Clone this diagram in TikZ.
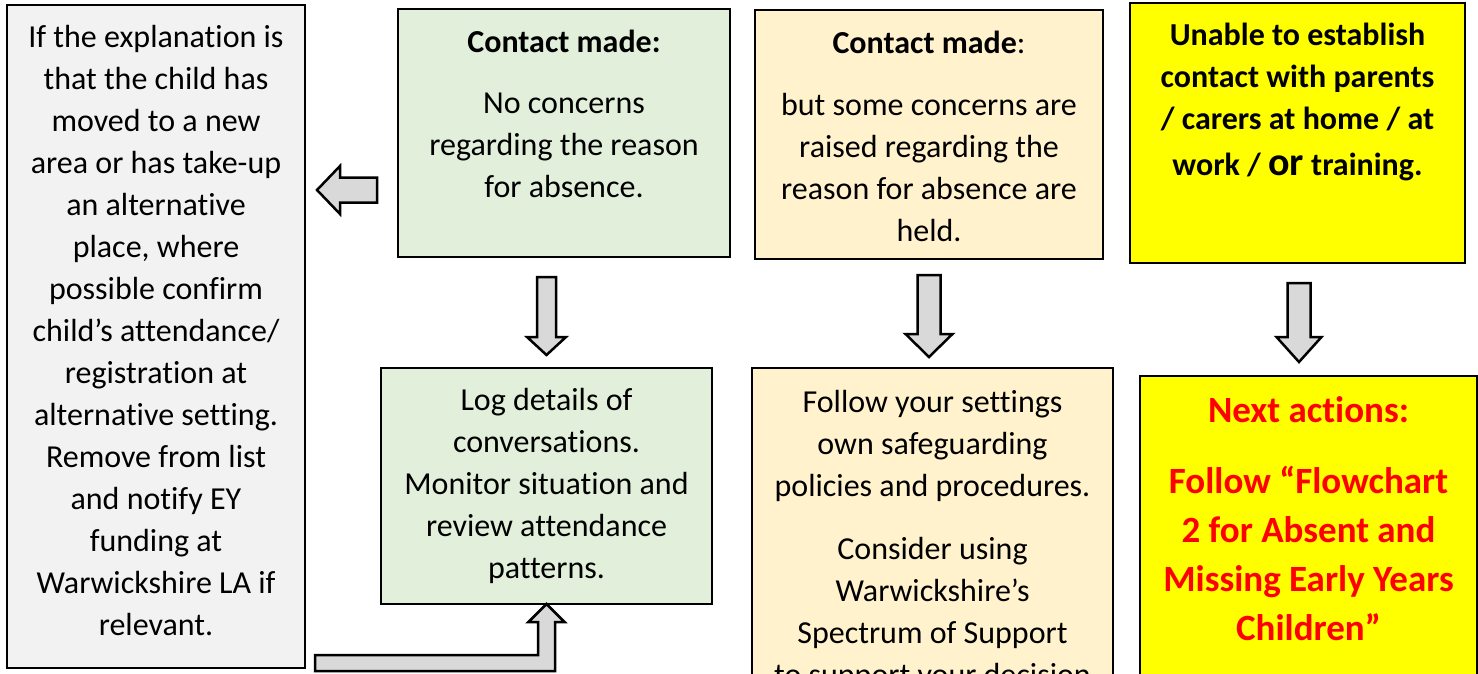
\documentclass[tikz,border=0pt]{standalone}
\usepackage{fontspec}
\setmainfont{Carlito}[Ligatures=NoCommon]
\usetikzlibrary{calc}

\definecolor{greyfill}{HTML}{F2F2F2}
\definecolor{greenfill}{HTML}{E2EFDA}
\definecolor{orangefill}{HTML}{FFF2CC}
\definecolor{yellowfill}{HTML}{FFFF00}
\definecolor{arrowfill}{HTML}{D9D9D9}
\definecolor{redtext}{HTML}{FF0000}

\tikzset{%
  % Specifications for style of boxes and block arrows:
         box/.style = {rectangle, draw=black, line width=2.5pt, inner sep=0pt, outer sep=0pt, anchor=north west},
  blockarrow/.style = {draw=black, line width=2.5pt, fill=arrowfill, line join=miter},
}

% box text: height, width, first baseline, text
\newcommand{\boxtext}[4]{\parbox[t][#1pt][t]{#2pt}{\centering\fontsize{32}{42}\selectfont\rule{0pt}{#3pt}#4\par}}

% block arrow pointing down: tail, tip, shaft half width, head half width, head length
\newcommand{\downblock}[5]{%
  \draw[blockarrow] ($(#1)+(-#3,0)$) -- ($(#2)+(-#3,-#5)$) -- ($(#2)+(-#4,-#5)$) -- (#2)
    -- ($(#2)+(#4,-#5)$) -- ($(#2)+(#3,-#5)$) -- ($(#1)+(#3,0)$) -- cycle;}
% block arrow pointing left
\newcommand{\leftblock}[5]{%
  \draw[blockarrow] ($(#1)+(0,-#3)$) -- ($(#2)+(#5,-#3)$) -- ($(#2)+(#5,-#4)$) -- (#2)
    -- ($(#2)+(#5,#4)$) -- ($(#2)+(#5,#3)$) -- ($(#1)+(0,#3)$) -- cycle;}

\begin{document}
\begin{tikzpicture}[x=1pt, y=-1pt]
    \useasboundingbox (0,0) rectangle (1478,674);
    \fill[white] (0,0) rectangle (1478,674);
    \clip (0,0) rectangle (1478,674);

    % Draw boxes
    \node (grey) [box, fill=greyfill]   at (7,5)     {\boxtext{663}{298}{43}{If the explanation is\\ that the child has\\ moved to a new\\ area or has take-up\\ an alternative\\ place, where\\ possible confirm\\ child’s attendance/\\ registration at\\ alternative setting.\\ Remove from list\\ and notify EY\\ funding at\\ Warwickshire LA if\\ relevant.}};
    \node (gA)   [box, fill=greenfill]  at (398,9)   {\boxtext{248}{332}{44}{\textbf{Contact made:}\\[19pt] No concerns\\ regarding the reason\\ for absence.}};
    \node (oA)   [box, fill=orangefill] at (755,10)  {\boxtext{249}{348}{44}{\textbf{Contact made}:\\[20pt] but some concerns are\\ raised regarding the\\ reason for absence are\\ held.}};
    \node (yA)   [box, fill=yellowfill] at (1130,3)  {\boxtext{260}{335}{43}{\bfseries Unable to establish\\ contact with parents\\ / carers at home / at\\[4pt] work / {\fontsize{40}{42}\selectfont or} training.}};
    \node (gB)   [box, fill=greenfill]  at (381,368) {\boxtext{236}{331}{42}{Log details of\\ conversations.\\ Monitor situation and\\ review attendance\\ patterns.}};
    \node (oB)   [box, fill=orangefill] at (752,368) {\boxtext{400}{361}{44}{Follow your settings\\ own safeguarding\\ policies and procedures.\\[21pt] Consider using\\ Warwickshire’s\\ Spectrum of Support\\ to support your decision}};
    \node (yB)   [box, fill=yellowfill] at (1140,376) {\boxtext{400}{337}{46}{\fontsize{37}{49}\selectfont\bfseries\color{redtext}Next actions:\\[22pt] Follow “Flowchart\\ 2 for Absent and\\ Missing Early Years\\ Children”}};

    % Arrow ends
    \coordinate (gtail) at ($(gA.south -| gB.north)+(0,20)$);
    \coordinate (gtip)  at ($(gB.north)+(0,-13)$);
    \coordinate (otail) at ($(oA.south)+(0,16)$);
    \coordinate (otip)  at ($(oA.south |- oB.north)+(0,-11)$);
    \coordinate (ytail) at ($(yA.south)+(1.5,20)$);
    \coordinate (ytip)  at ($(yA.south |- yB.north)+(1.5,-14)$);
    \coordinate (ltail) at ($(gA.north west)+(-21,181)$);
    \coordinate (ltip)  at ($(ltail -| grey.east)+(12,0)$);
    \coordinate (etail) at ($(grey.south east)+(10,-5)$);
    \coordinate (etip)  at (gB.south);
    \coordinate (ecorner) at (etip |- etail);

    % Draw arrows
    \downblock{gtail}{gtip}{9.5}{19.5}{18}
    \downblock{otail}{otip}{11.5}{23.5}{23}
    \downblock{ytail}{ytip}{11.5}{22.5}{25}
    \leftblock{ltail}{ltip}{12.5}{24}{23}
    \draw[blockarrow] ($(etail)+(0,-8)$) -- ($(ecorner)+(-8.5,-8)$) -- ($(etip)+(-8.5,18)$) -- ($(etip)+(-18,18)$) -- (etip)
        -- ($(etip)+(18,18)$) -- ($(etip)+(8.5,18)$) -- ($(ecorner)+(8.5,8)$) -- ($(etail)+(0,8)$) -- cycle;
\end{tikzpicture}
\end{document}
